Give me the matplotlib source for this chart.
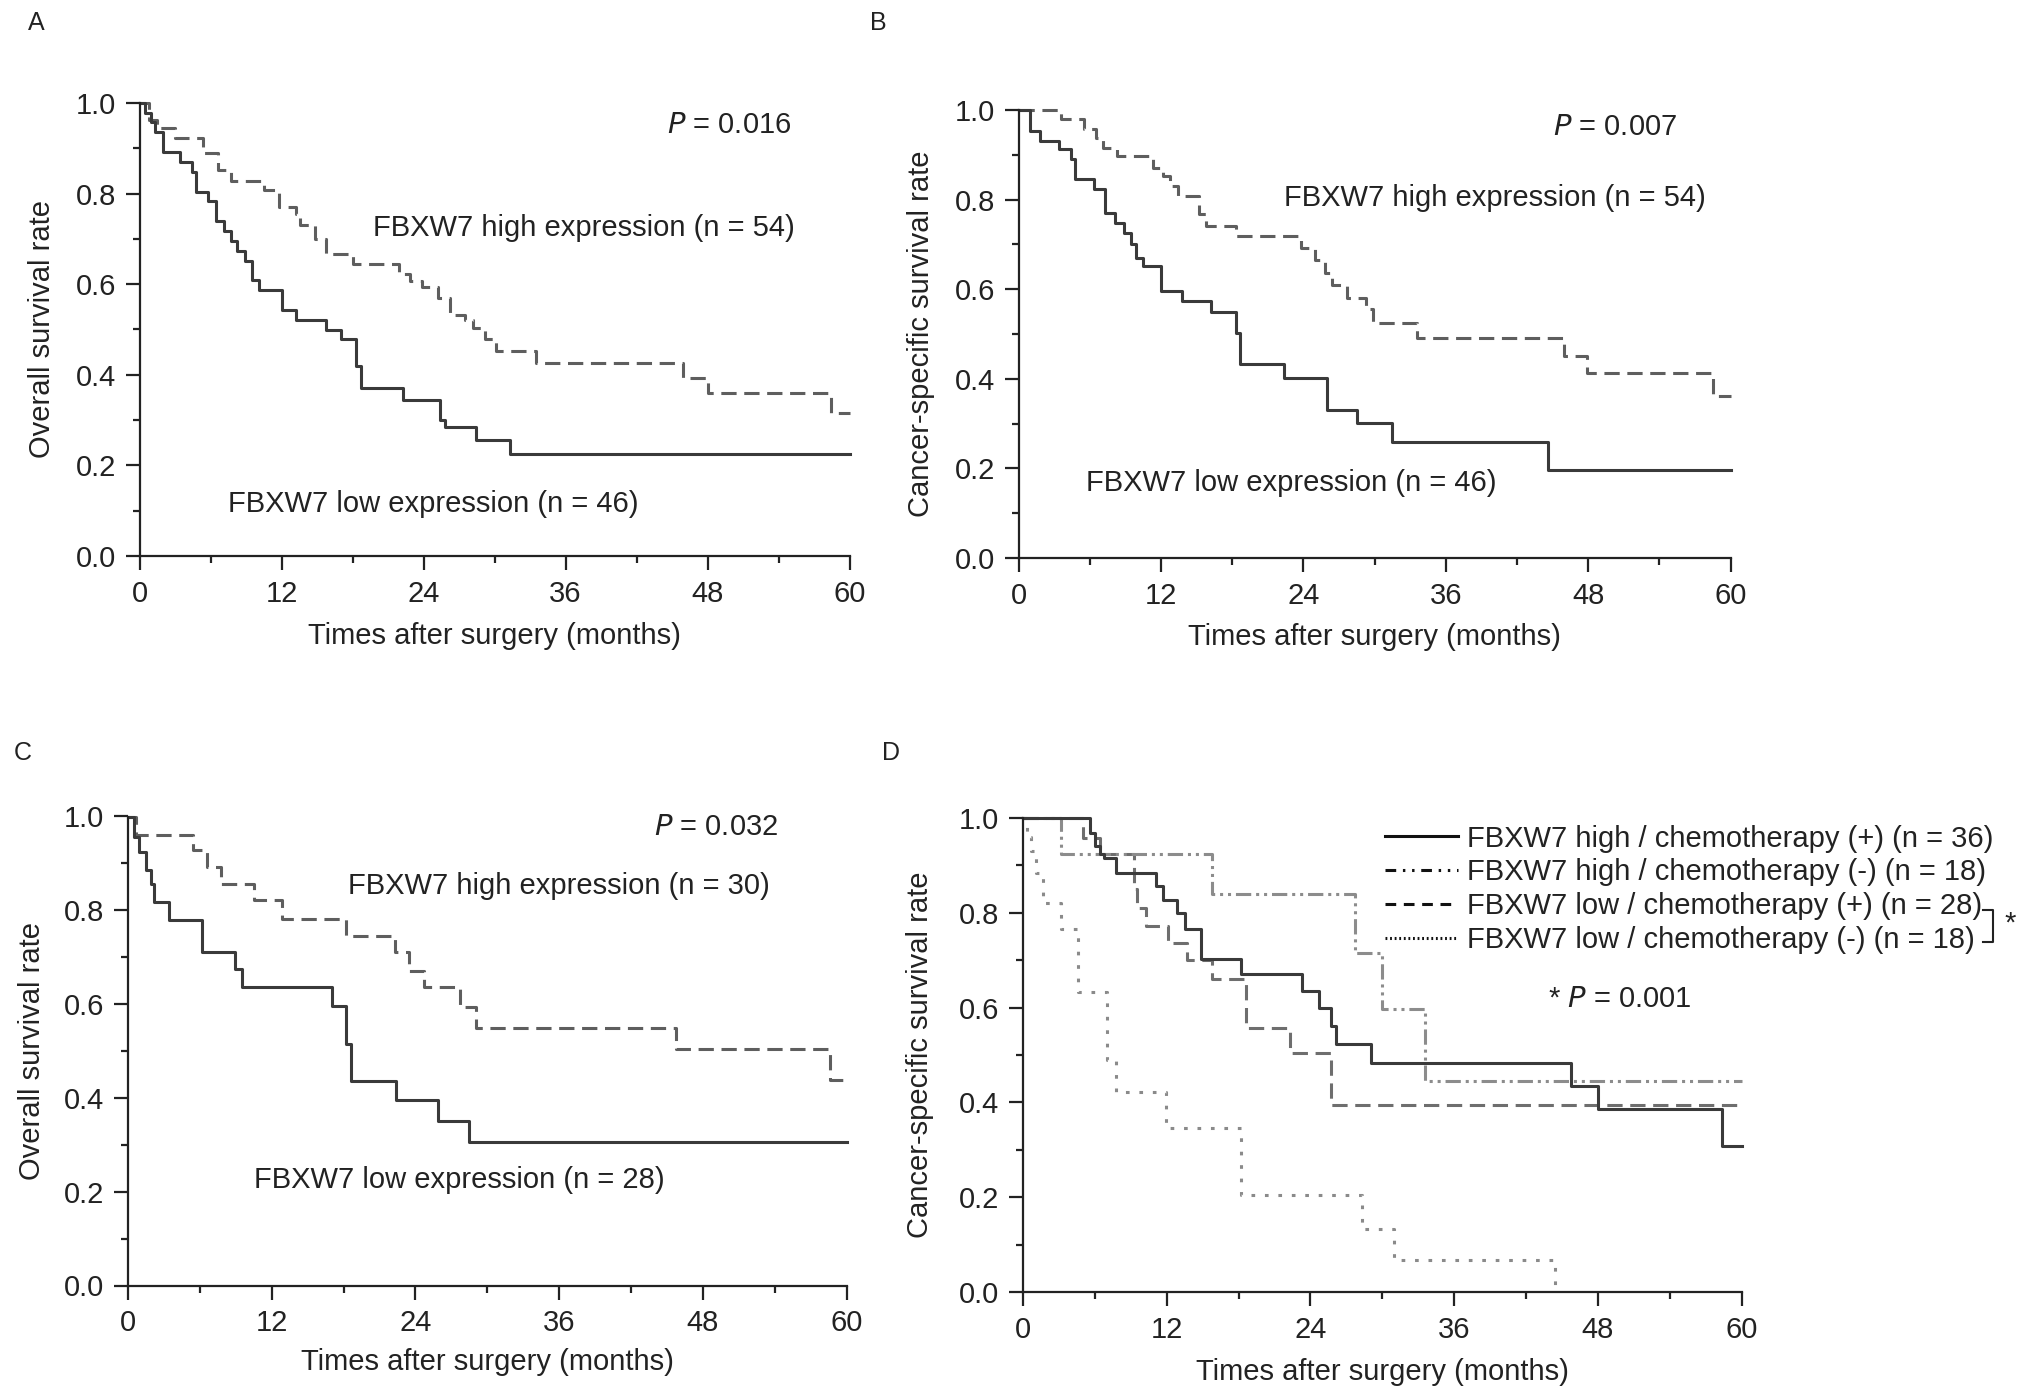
import matplotlib
matplotlib.use("Agg")
import matplotlib.pyplot as plt
from matplotlib.lines import Line2D
from matplotlib.ticker import MultipleLocator, FormatStrFormatter

plt.rcParams['font.family'] = ['Liberation Sans', 'DejaVu Sans']

# ---------------- data ----------------
END = 60
# Panel A (overall survival, all patients)
a_low_t = [0, 0.5, 1.0, 1.3, 2.0, 3.4, 4.4, 4.8, 5.8, 6.5, 7.1, 7.7, 8.2, 8.9, 9.5, 10.1, 12.0, 13.2, 15.8, 17.0, 18.3, 18.7, 22.3, 25.4, 25.8, 28.4, 31.3]
a_low_s = [1.0, 0.978, 0.957, 0.935, 0.891, 0.870, 0.848, 0.804, 0.783, 0.739, 0.717, 0.696, 0.674, 0.652, 0.609, 0.587, 0.543, 0.522, 0.500, 0.478, 0.42, 0.370, 0.344, 0.300, 0.285, 0.256, 0.226]
a_high_t = [0, 0.8, 1.5, 3.0, 5.4, 6.6, 7.7, 10.5, 11.8, 13.2, 13.6, 14.8, 15.8, 18.0, 21.9, 22.9, 23.9, 25.2, 26.2, 27.5, 28.2, 29.2, 30.1, 33.5, 45.9, 48.0, 58.4]
a_high_s = [1.0, 0.963, 0.944, 0.922, 0.889, 0.852, 0.828, 0.807, 0.770, 0.756, 0.730, 0.700, 0.667, 0.644, 0.622, 0.607, 0.593, 0.570, 0.533, 0.520, 0.504, 0.480, 0.452, 0.426, 0.393, 0.359, 0.315]

# Panel B (cancer-specific survival, all patients)
b_low_t = [0, 1.0, 1.8, 3.4, 4.4, 4.8, 6.4, 7.3, 8.1, 8.9, 9.5, 9.9, 10.5, 12.0, 13.8, 16.2, 18.3, 18.7, 22.4, 26.0, 28.5, 31.5, 44.6]
b_low_s = [1.0, 0.953, 0.931, 0.912, 0.890, 0.845, 0.823, 0.770, 0.748, 0.726, 0.700, 0.670, 0.652, 0.595, 0.573, 0.549, 0.503, 0.432, 0.402, 0.331, 0.301, 0.260, 0.197]
b_high_t = [0, 3.6, 5.5, 6.5, 7.1, 8.3, 11.3, 12.2, 12.8, 13.4, 15.2, 15.8, 18.3, 23.8, 25.0, 25.8, 26.4, 27.7, 29.3, 29.9, 33.6, 46.0, 47.9, 58.5]
b_high_s = [1.0, 0.980, 0.957, 0.938, 0.916, 0.897, 0.870, 0.852, 0.830, 0.808, 0.767, 0.741, 0.718, 0.692, 0.666, 0.636, 0.610, 0.580, 0.555, 0.525, 0.491, 0.450, 0.413, 0.361]

# Panel C (overall survival, subgroup)
c_low_t = [0, 0.5, 0.9, 1.5, 1.9, 2.2, 3.4, 6.2, 8.9, 9.5, 17.0, 18.2, 18.6, 22.4, 25.9, 28.5]
c_low_s = [1.0, 0.957, 0.925, 0.886, 0.857, 0.818, 0.779, 0.711, 0.675, 0.636, 0.596, 0.514, 0.436, 0.396, 0.350, 0.307]
c_high_t = [0, 0.7, 5.4, 6.6, 7.8, 10.5, 12.9, 18.2, 22.3, 23.5, 24.7, 27.7, 29.1, 45.8, 58.6]
c_high_s = [1.0, 0.961, 0.929, 0.893, 0.857, 0.821, 0.782, 0.746, 0.711, 0.671, 0.636, 0.593, 0.550, 0.504, 0.439]

# Panel D (cancer-specific survival by chemotherapy)
d_hp_t = [0, 5.6, 6.0, 6.4, 6.8, 7.8, 11.1, 11.7, 12.9, 13.5, 14.9, 18.2, 23.3, 24.7, 25.7, 26.1, 29.1, 45.8, 48.0, 58.4]
d_hp_s = [1.0, 0.968, 0.940, 0.923, 0.916, 0.884, 0.856, 0.828, 0.800, 0.765, 0.702, 0.670, 0.635, 0.600, 0.561, 0.523, 0.484, 0.435, 0.386, 0.309]
d_hm_t = [0, 3.2, 15.8, 27.7, 30.0, 33.6]
d_hm_s = [1.0, 0.923, 0.839, 0.716, 0.596, 0.446]
d_lp_t = [0, 5.0, 6.4, 9.3, 9.5, 10.3, 12.1, 13.7, 15.8, 18.6, 22.3, 25.7]
d_lp_s = [1.0, 0.958, 0.923, 0.850, 0.810, 0.772, 0.737, 0.700, 0.660, 0.558, 0.505, 0.395]
d_lm_t = [0, 0.3, 0.7, 1.1, 1.7, 3.2, 4.6, 7.0, 7.8, 11.9, 18.2, 28.3, 31.0, 44.4]
d_lm_s = [1.0, 0.960, 0.930, 0.884, 0.821, 0.765, 0.632, 0.490, 0.421, 0.347, 0.204, 0.133, 0.067, 0.0]

labels_d = ["FBXW7 high / chemotherapy (+) (n = 36)",
            "FBXW7 high / chemotherapy (-) (n = 18)",
            "FBXW7 low / chemotherapy (+) (n = 28)",
            "FBXW7 low / chemotherapy (-) (n = 18)"]

# ---------------- styling ----------------
FS = 21
W, H = 2026, 1400
fig = plt.figure(figsize=(W / 100, H / 100), dpi=100)

def add_ax(x0, x1, y0, y1):
    return fig.add_axes([x0 / W, 1 - y1 / H, (x1 - x0) / W, (y1 - y0) / H])

SOLID = '#3a3a3a'
DASHC = '#5e5e5e'
LW = 2.2

def step(ax, t, s, extend=True, **kw):
    t = list(t)
    s = list(s)
    if extend:
        t = t + [END]
        s = s + [s[-1]]
    ax.step(t, s, where='post', lw=LW, clip_on=False, **kw)

def style(ax, ylabel, ylx, xly):
    ax.set_xlim(0, 60)
    ax.set_ylim(0, 1.0)
    for sp in ['top', 'right']:
        ax.spines[sp].set_visible(False)
    for sp in ['left', 'bottom']:
        ax.spines[sp].set_linewidth(1.6)
        ax.spines[sp].set_color('#222222')
    ax.xaxis.set_major_locator(MultipleLocator(12))
    ax.xaxis.set_minor_locator(MultipleLocator(6))
    ax.yaxis.set_major_locator(MultipleLocator(0.2))
    ax.yaxis.set_minor_locator(MultipleLocator(0.1))
    ax.yaxis.set_major_formatter(FormatStrFormatter('%.1f'))
    ax.tick_params(which='major', direction='out', length=10, width=1.6,
                   labelsize=FS, pad=7, colors='#222222')
    ax.tick_params(which='minor', direction='out', length=5, width=1.6, colors='#222222')
    ax.set_xlabel('Times after surgery (months)', fontsize=FS, color='#222222')
    ax.set_ylabel(ylabel, fontsize=FS, color='#222222')
    ax.xaxis.set_label_coords(0.5, xly)
    ax.xaxis.label.set_verticalalignment('center')
    ax.yaxis.set_label_coords(ylx, 0.5)
    ax.yaxis.label.set_verticalalignment('center')

def txt(ax, x, y, s, **kw):
    ax.text(x, y, s, fontsize=FS, color='#222222', va='center', ha='left', **kw)

DASH = (5, 2.5)

# Panel A
axA = add_ax(139.5, 849.5, 103, 556)
step(axA, a_high_t, a_high_s, color=DASHC, dashes=DASH)
step(axA, a_low_t, a_low_s, color=SOLID)
style(axA, 'Overall survival rate', -0.138, -0.177)
txt(axA, 44.6, 0.951, r'$\it{P}$ = 0.016')
txt(axA, 19.7, 0.723, 'FBXW7 high expression (n = 54)')
txt(axA, 7.5, 0.114, 'FBXW7 low expression (n = 46)')

# Panel B
axB = add_ax(1018.5, 1730.5, 110, 558)
step(axB, b_high_t, b_high_s, color=DASHC, dashes=DASH)
step(axB, b_low_t, b_low_s, color=SOLID)
style(axB, 'Cancer-specific survival rate', -0.137, -0.176)
txt(axB, 45.0, 0.963, r'$\it{P}$ = 0.007')
txt(axB, 22.4, 0.804, 'FBXW7 high expression (n = 54)')
txt(axB, 5.7, 0.167, 'FBXW7 low expression (n = 46)')

# Panel C
axC = add_ax(128, 846.5, 816.5, 1285.5)
step(axC, c_high_t, c_high_s, color=DASHC, dashes=DASH)
step(axC, c_low_t, c_low_s, color=SOLID)
style(axC, 'Overall survival rate', -0.134, -0.164)
txt(axC, 43.9, 0.978, r'$\it{P}$ = 0.032')
txt(axC, 18.4, 0.851, 'FBXW7 high expression (n = 30)')
txt(axC, 10.5, 0.226, 'FBXW7 low expression (n = 28)')

# Panel D
axD = add_ax(1023, 1741.5, 818, 1292)
DD = (5, 1.6, 1, 1.6, 1, 1.6)
DOT = (1.2, 3.2)
step(axD, d_lm_t, d_lm_s, extend=False, color='#8a8a8a', dashes=DOT)
step(axD, d_lp_t, d_lp_s, color='#6e6e6e', dashes=DASH)
step(axD, d_hm_t, d_hm_s, color='#8c8c8c', dashes=DD)
step(axD, d_hp_t, d_hp_s, color=SOLID)
style(axD, 'Cancer-specific survival rate', -0.143, -0.169)
txt(axD, 43.8, 0.619, r'* $\it{P}$ = 0.001')

handles = [Line2D([], [], color='#111111', lw=LW),
           Line2D([], [], color='#111111', lw=LW, dashes=(3.5, 2.2, 0.8, 2.2, 0.8, 2.2)),
           Line2D([], [], color='#111111', lw=LW, dashes=(3.5, 2.5)),
           Line2D([], [], color='#111111', lw=LW, dashes=(0.6, 0.9))]
leg = axD.legend(handles, labels_d, loc='upper left', bbox_to_anchor=(0.504, 0.986),
                 frameon=False, fontsize=FS, handlelength=2.5, handletextpad=0.3,
                 labelspacing=0.2, borderaxespad=0, borderpad=0)
for t in leg.get_texts():
    t.set_color('#222222')

# bracket marking the compared pair
BR_X0, BR_X1 = 80.2, 81.0
BR_Y0, BR_Y1 = 0.738, 0.805
axD.plot([BR_X0, BR_X1, BR_X1, BR_X0], [BR_Y1, BR_Y1, BR_Y0, BR_Y0],
         color='#222222', lw=1.5, clip_on=False)
axD.text(82.0, 0.778, '*', fontsize=FS, color='#222222', ha='left', va='center')

# panel letters
for lab, x, y in [('A', 36, 23), ('B', 878, 23), ('C', 23, 753), ('D', 891, 753)]:
    fig.text(x / W, 1 - y / H, lab, fontsize=18, color='#222222', ha='center', va='center')

fig.savefig('out.png', dpi=100)
